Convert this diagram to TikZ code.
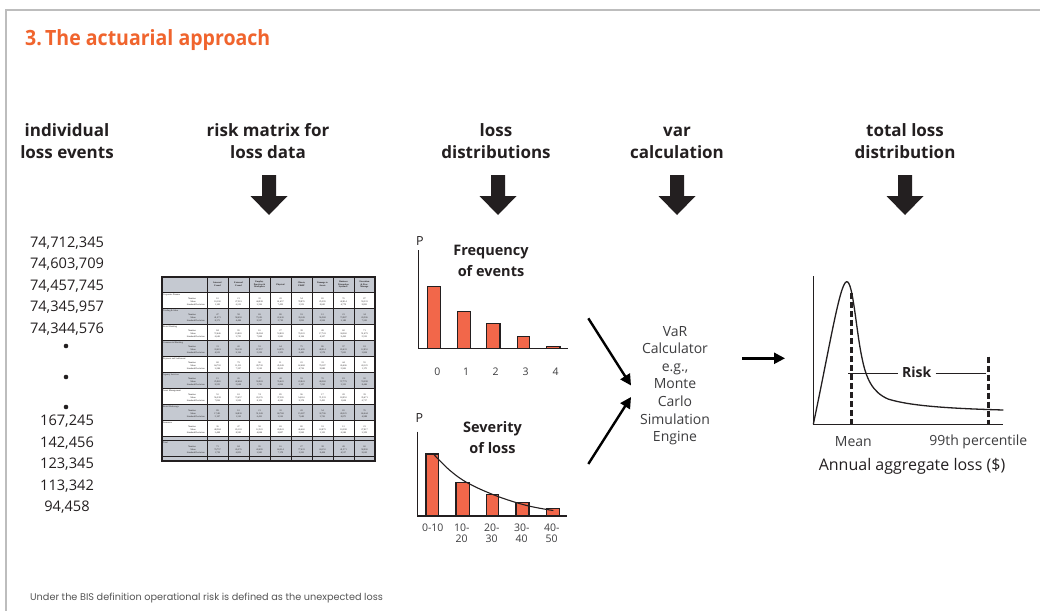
\documentclass[tikz,border=0pt]{standalone}
\usepackage{fontspec}
\setmainfont{Open Sans}
\newfontfamily\footfont{Poppins}
\newfontfamily\tblfont{Liberation Serif}
\usetikzlibrary{arrows.meta}
\definecolor{ink}{HTML}{231F20}
\definecolor{orng}{HTML}{F0642D}
\definecolor{barc}{HTML}{F2674A}
\definecolor{txtg}{HTML}{3D3D3F}
\definecolor{tblg}{HTML}{C5C9D1}
\definecolor{framec}{HTML}{BDBDBD}
\definecolor{footc}{HTML}{555555}
\newcommand\blockarr[1]{\fill[ink] ({#1-7},175) -- ({#1+7},175) -- ({#1+7},196) -- ({#1+18.5},196) -- (#1,215) -- ({#1-18.5},196) -- ({#1-7},196) -- cycle;}
\begin{document}
\begin{tikzpicture}[x=1pt,y=-1pt,
  hdr/.style={font=\bfseries\fontsize{17}{22}\selectfont, text=ink, align=center, inner sep=0pt},
  num/.style={font=\fontsize{14.6}{16}\selectfont, text=ink, inner sep=0pt},
  bar/.style={fill=barc, draw=ink, line width=1.1pt},
  axis/.style={draw=ink, line width=1.4pt},
  lbl/.style={font=\fontsize{10.5}{11}\selectfont, text=txtg, inner sep=0pt, align=center},
  ctitle/.style={font=\bfseries\fontsize{14.5}{21}\selectfont, text=ink, align=center, inner sep=0pt},
  conn/.style={draw=black, line width=2.4pt, -{Triangle[length=11pt,width=11pt]}},
  tiny/.style={font=\tblfont\fontsize{2.3}{2.6}\selectfont, text=ink, inner sep=0pt},
  tinyb/.style={font=\tblfont\bfseries\fontsize{2.3}{2.6}\selectfont, text=ink, inner sep=0pt, align=center},
  dsh/.style={draw=ink, line width=3pt, dash pattern=on 6pt off 3pt},
]
\useasboundingbox (0,0) rectangle (1040,610);
\fill[white] (0,0) rectangle (1040,610);
\draw[framec, line width=2pt] (6,612) -- (6,10) -- (1042,10);

% title
\node[anchor=west, text=orng, font=\bfseries\fontsize{21}{24}\selectfont, inner sep=0pt] (title) at (25,40) {\scalebox{0.93}[1]{3.\kern3.5pt The actuarial approach}};

% headers
\node[hdr] (h1) at (67,143.5) {\strut individual\\\strut loss events};
\node[hdr] (h2) at (268,143.5) {\strut risk matrix for\\\strut loss data};
\node[hdr] (h3) at (496,143.5) {\strut loss\\\strut distributions};
\node[hdr] (h4) at (677,143.5) {\strut var\\\strut calculation};
\node[hdr] (h5) at (905,143.5) {\strut total loss\\\strut distribution};

\blockarr{269}
\blockarr{498}
\blockarr{677}
\blockarr{905}

% individual loss events
\node[num] (n1) at (67,243) {74,712,345};
\node[num] (n2) at (67,264.5) {74,603,709};
\node[num] (n3) at (67,286) {74,457,745};
\node[num] (n4) at (67,307.5) {74,345,957};
\node[num] (n5) at (67,329) {74,344,576};
\fill[ink] (66,346) circle (2.3) (66,377) circle (2.3) (66,407) circle (2.3);
\node[num] (n6) at (67,421.5) {167,245};
\node[num] (n7) at (67,443) {142,456};
\node[num] (n8) at (67,464.5) {123,345};
\node[num] (n9) at (67,486) {113,342};
\node[num] (n10) at (67,507) {94,458};

% risk matrix table
\fill[tblg] (162,277) rectangle (375,292);
\foreach \i in {1,3,5,7} {\fill[tblg] (162,{292+16*\i}) rectangle (375,{308+16*\i});}
\fill[tblg] (162,436) rectangle (375,461);
\foreach \k in {0,...,7} {\draw[ink, line width=0.7pt] ({207+21*\k},277) -- ({207+21*\k},461);}
\foreach \i in {0,...,9} {\draw[ink, line width=0.7pt] (162,{292+16*\i}) -- (375,{292+16*\i});}
\draw[ink, line width=0.7pt] (162,440) -- (375,440) (162,456) -- (375,456);
\draw[ink, line width=1.2pt] (162,277) rectangle (375,461);
\foreach \t [count=\k from 0] in {{Internal\\Fraud}, {External\\Fraud}, {Employ.\\Practices \&\\Workplace}, {Physical}, {Clients,\\P\&BP}, {Damage to\\Assets}, {Business\\Disruption\\System F.}, {Execution\\\& Proc.\\Manage.}}
  {\node[tinyb] at ({217.5+21*\k},284.5) {\t};}
\foreach \g [count=\i from 0] in {Corporate Finance, Trading \& Sales, Retail Banking, Commercial Banking, Payment and Settlement, Agency Services, Asset Management, Retail Brokerage, Insurance, Total} {
  \pgfmathsetmacro\yy{(\i<9) ? 292+16*\i : 440}
  \node[tiny, anchor=west] at (163,{\yy+2.5}) {\g};
  \node[tiny, anchor=east] at (196,{\yy+6.5}) {Number};
  \node[tiny, anchor=east] at (196,{\yy+9.5}) {Mean};
  \node[tiny, anchor=east] at (205,{\yy+12.5}) {Standard Deviation};
  \foreach \k in {0,...,7} {
    \pgfmathtruncatemacro\na{mod(37*\i+11*\k,90)+10}
    \pgfmathtruncatemacro\ma{mod(31*\i+17*\k,70)+10}
    \pgfmathtruncatemacro\mb{mod(173*\i+419*\k,900)+100}
    \pgfmathtruncatemacro\sa{mod(7*\i+5*\k,9)+1}
    \pgfmathtruncatemacro\sb{mod(271*\i+113*\k,900)+100}
    \node[tiny] at ({217.5+21*\k},{\yy+6.5}) {\na};
    \node[tiny] at ({217.5+21*\k},{\yy+9.5}) {\ma,\mb};
    \node[tiny] at ({217.5+21*\k},{\yy+12.5}) {\sa,\sb};
  }
}

% frequency chart
\node[font=\fontsize{12.5}{13}\selectfont, text=ink, inner sep=0pt] (fp) at (420,241.5) {P};
\node[ctitle] (ft) at (491,261) {Frequency\\of events};
\draw[bar] (427.3,348.3) rectangle (440.7,286.7);
\draw[bar] (457.7,348.3) rectangle (470.7,311.7);
\draw[bar] (486.7,348.3) rectangle (500,323.3);
\draw[bar] (517.3,348.3) rectangle (529.3,336.7);
\draw[bar] (546.7,348.3) rectangle (560,346.7);
\draw[axis] (418.3,250) -- (418.3,348.3) -- (568,348.3);
\node[lbl] (f0) at (437.3,371.5) {0};
\node[lbl] (f1) at (466,371.5) {1};
\node[lbl] (f2) at (495.7,371.5) {2};
\node[lbl] (f3) at (525.7,371.5) {3};
\node[lbl] (f4) at (555.7,371.5) {4};

% severity chart
\node[font=\fontsize{12.5}{13}\selectfont, text=ink, inner sep=0pt] (sp) at (419.5,418.3) {P};
\node[ctitle] (st) at (492.5,437.5) {Severity\\of loss};
\draw[bar] (426,516) rectangle (438.7,454);
\draw[bar] (456,516) rectangle (469.3,482.3);
\draw[bar] (486.7,516) rectangle (498.7,494.3);
\draw[bar] (516,516) rectangle (529,502.3);
\draw[bar] (546.7,516) rectangle (559.3,508.3);
\draw[axis] (417.7,431.5) -- (417.7,516) -- (567.3,516);
\draw[ink, line width=1.1pt] plot[smooth, tension=0.6] coordinates {(432.7,453.3) (450,470.5) (468.3,483.3) (496.7,496) (526.7,505.5) (553.3,510.5)};
\node[lbl] (s0) at (432.7,527.7) {0-10};
\node[lbl] (s1) at (461.7,527.7) {10-};
\node[lbl] (s1b) at (461.7,538.9) {20};
\node[lbl] (s2) at (491.7,527.7) {20-};
\node[lbl] (s2b) at (491.7,538.9) {30};
\node[lbl] (s3) at (521.7,527.7) {30-};
\node[lbl] (s3b) at (521.7,538.9) {40};
\node[lbl] (s4) at (551.7,527.7) {40-};
\node[lbl] (s4b) at (551.7,538.9) {50};

% VaR calculator
\node[font=\fontsize{14}{17.6}\selectfont, text=txtg, align=center, inner sep=0pt] (var) at (675,385.5) {VaR\\Calculator\\e.g.,\\Monte\\Carlo\\Simulation\\Engine};
\coordinate (a1s) at (588.3,318.3);
\coordinate (a1e) at (631,385.5);
\coordinate (a2s) at (588.3,464);
\coordinate (a2e) at (631,397);
\coordinate (a3s) at (742.3,358.3);
\coordinate (a3e) at (785,358.3);
\draw[conn] (a1s) -- (a1e);
\draw[conn] (a2s) -- (a2e);
\draw[conn] (a3s) -- (a3e);

% total loss distribution
\draw[axis, line width=1.6pt] (813.3,276) -- (813.3,424.3) -- (1003.3,424.3);
\draw[ink, line width=1.3pt] (813.3,424.3) .. controls (830,345) and (840,282) .. (846.7,281.7)
  .. controls (853,281) and (856,330) .. (862,358)
  .. controls (866,378) and (872,392) .. (888,399)
  .. controls (910,406) and (950,408.5) .. (1003.3,410);
\draw[dsh] (851.7,293.3) -- (851.7,425);
\draw[dsh] (988.3,356.7) -- (988.3,425);
\node[font=\bfseries\fontsize{14}{16}\selectfont, text=ink, inner sep=0pt] (risk) at (916.7,372.5) {Risk};
\coordinate (rl) at (848.3,373.3);
\coordinate (rr) at (986,373.3);
\coordinate (rm1) at (897.7,373.3);
\coordinate (rm2) at (935.7,373.3);
\draw[ink, line width=1.1pt] (rl) -- (rm1);
\draw[ink, line width=1.1pt] (rm2) -- (rr);
\node[font=\fontsize{14}{15}\selectfont, text=txtg, inner sep=0pt] (mean) at (853.3,441.5) {Mean};
\node[font=\fontsize{14}{15}\selectfont, text=txtg, inner sep=0pt] (p99) at (978.3,441.5) {99th percentile};
\node[font=\fontsize{16}{18}\selectfont, text=ink, inner sep=0pt] (ann) at (912,466.5) {Annual aggregate loss (\$)};

% footnote
\node[anchor=west, font=\footfont\fontsize{9.7}{11}\selectfont, text=footc, inner sep=0pt] (foot) at (30,598.5) {Under the BIS definition operational risk is defined as the unexpected loss};
\end{tikzpicture}
\end{document}
